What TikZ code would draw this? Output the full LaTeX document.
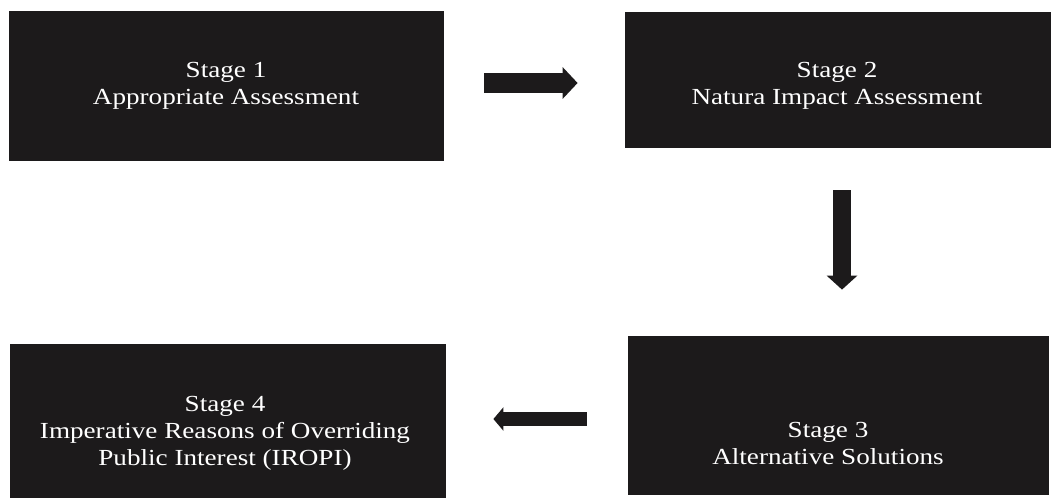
\documentclass[tikz,border=0pt]{standalone}
\usepackage{fontspec}
\setmainfont[FakeStretch=1.18]{Liberation Serif}
\usetikzlibrary{arrows.meta}
\definecolor{boxdark}{RGB}{28,26,27}
\tikzset{
  stagebox/.style={fill=boxdark, draw=boxdark, line width=0.8pt, inner sep=0pt},
  stagetext/.style={text=white, align=center, font=\fontsize{23}{27}\selectfont, inner sep=0pt},
  bigarrow/.style={draw=boxdark, line cap=butt}
}
\begin{document}
\begin{tikzpicture}[x=1pt,y=-1pt]
\useasboundingbox (0,0) rectangle (1051,499);
% boxes
\node[stagebox, minimum width=434pt, minimum height=149pt] (b1) at (226,85.5) {};
\node[stagebox, minimum width=425pt, minimum height=135pt] (b2) at (837.5,79.5) {};
\node[stagebox, minimum width=420pt, minimum height=158pt] (b3) at (838,415) {};
\node[stagebox, minimum width=435pt, minimum height=153pt] (b4) at (227.5,420.5) {};
% texts
\node[stagetext] (t1) at (226,86) {Stage 1\\Appropriate Assessment};
\node[stagetext] (t2) at (837,86) {Stage 2\\Natura Impact Assessment};
\node[stagetext] (t3) at (828,443) {Stage 3\\Alternative Solutions};
\node[stagetext] (t4) at (225,433) {Stage 4\\Imperative Reasons of Overriding\\Public Interest (IROPI)};
% arrow end points
\coordinate (a1s) at (b1.east |- 0,83);
\coordinate (a1e) at (b2.west |- 0,83);
\coordinate (a2s) at (842,0 |- b2.south);
\coordinate (a2e) at (842,0 |- b3.north);
\coordinate (a3s) at (b3.west |- 0,419);
\coordinate (a3e) at (b4.east |- 0,419);
% arrows
\draw[bigarrow, line width=20pt, -{Triangle[length=15pt,width=31pt]}, shorten <=41pt, shorten >=47pt] (a1s) -- (a1e);
\draw[bigarrow, line width=18pt, -{Triangle[length=14pt,width=30pt]}, shorten <=43pt, shorten >=46pt] (a2s) -- (a2e);
\draw[bigarrow, line width=14pt, -{Triangle[length=10pt,width=23pt]}, shorten <=41pt, shorten >=48pt] (a3s) -- (a3e);
\end{tikzpicture}
\end{document}
